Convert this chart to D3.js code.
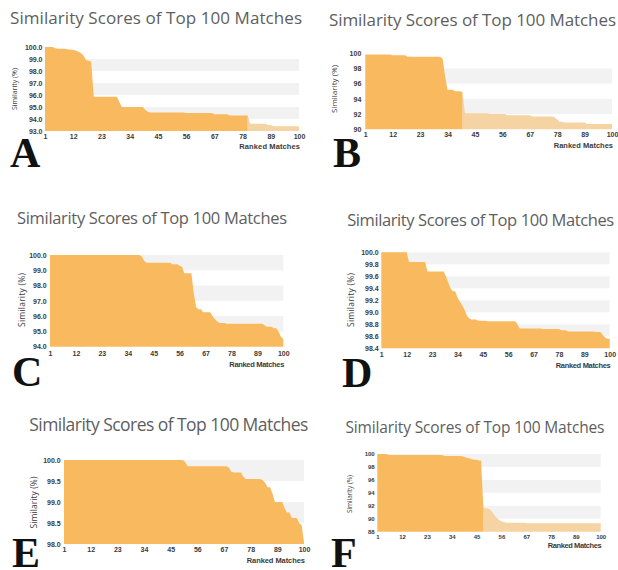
<!DOCTYPE html>
<html><head><meta charset="utf-8">
<script src="https://cdn.jsdelivr.net/npm/d3@7"></script>
<style>body{margin:0;background:#fff;} svg{display:block;}</style>
</head><body><svg id="c" width="618" height="570"></svg>
<script>
// ---------- data ----------
const xTickLabels = [1, 12, 23, 34, 45, 56, 67, 78, 89, 100];
const chartTitle = "Similarity Scores of Top 100 Matches";
const yAxisTitle = "Similarity (%)";
const xAxisTitle = "Ranked Matches";
const panelLetters = ["A", "B", "C", "D", "E", "F"];

const yTicksA = [93, 94, 95, 96, 97, 98, 99, 100];
const yTicksB = [90, 92, 94, 96, 98, 100];
const yTicksC = [94, 95, 96, 97, 98, 99, 100];
const yTicksD = [98.4, 98.6, 98.8, 99.0, 99.2, 99.4, 99.6, 99.8, 100.0];
const yTicksE = [98.0, 98.5, 99.0, 99.5, 100.0];
const yTicksF = [88, 90, 92, 94, 96, 98, 100];

const scoresA = [
 100,100,100,100,99.9,99.85,99.85,99.85,99.85,99.8,
 99.8,99.75,99.7,99.6,99.5,99.3,98.9,98.85,98.8,95.85,
 95.85,95.85,95.85,95.85,95.85,95.85,95.85,95.85,95.85,95.4,
 95,95,95,95,95,95,95,95,95,94.8,
 94.6,94.55,94.55,94.55,94.55,94.55,94.55,94.55,94.55,94.55,
 94.55,94.55,94.55,94.55,94.55,94.5,94.5,94.5,94.5,94.5,
 94.5,94.5,94.5,94.5,94.5,94.5,94.4,94.4,94.4,94.4,
 94.4,94.4,94.3,94.3,94.3,94.3,94.3,94.3,94.3,94.3,
 93.6,93.6,93.6,93.6,93.6,93.6,93.6,93.5,93.5,93.4,
 93.4,93.4,93.4,93.4,93.4,93.4,93.4,93.4,93.4,93.4
];
const scoresB = [
 99.85,99.85,99.85,99.85,99.85,99.85,99.85,99.85,99.85,99.85,
 99.85,99.75,99.75,99.75,99.75,99.75,99.75,99.55,99.55,99.55,
 99.55,99.55,99.55,99.55,99.55,99.55,99.55,99.55,99.55,99.55,
 99.55,99.3,97.0,95.2,95.2,95.2,95.0,95.0,95.0,94.9,
 92.1,92.1,92.1,92.1,92.1,92.1,92.1,92.1,92.1,92.1,
 92.0,92.0,92.0,92.0,92.0,92.0,92.0,91.85,91.85,91.85,
 91.85,91.85,91.85,91.85,91.85,91.85,91.85,91.7,91.7,91.7,
 91.7,91.7,91.7,91.7,91.7,91.7,91.6,91.3,91.0,91.0,
 90.9,90.9,90.9,90.9,90.9,90.9,90.9,90.9,90.9,90.7,
 90.7,90.7,90.7,90.7,90.7,90.7,90.7,90.7,90.7,90.7
];
const scoresC = [
 100,100,100,100,100,100,100,100,100,100,
 100,100,100,100,100,100,100,100,100,100,
 100,100,100,100,100,100,100,100,100,100,
 100,100,100,100,100,100,100,100,100,99.9,
 99.6,99.5,99.5,99.5,99.5,99.5,99.5,99.5,99.5,99.5,
 99.5,99.5,99.4,99.4,99.4,99.3,99.25,98.8,98.8,98.8,
 98.8,97.5,96.6,96.45,96.45,96.25,96.25,96.25,96.25,96.0,
 95.8,95.65,95.55,95.55,95.55,95.5,95.5,95.5,95.5,95.5,
 95.5,95.5,95.5,95.5,95.5,95.5,95.5,95.5,95.5,95.5,
 95.5,95.4,95.3,95.3,95.3,95.2,95.2,95.0,94.65,94.5
];
const scoresD = [
 100,100,100,100,100,100,100,100,100,100,
 100,100,99.84,99.84,99.84,99.84,99.84,99.84,99.84,99.84,
 99.68,99.68,99.68,99.68,99.68,99.68,99.68,99.68,99.6,99.5,
 99.4,99.35,99.35,99.25,99.18,99.12,99.05,98.95,98.9,98.88,
 98.88,98.88,98.86,98.86,98.86,98.86,98.85,98.85,98.85,98.85,
 98.85,98.85,98.85,98.85,98.85,98.85,98.85,98.85,98.85,98.8,
 98.73,98.73,98.73,98.73,98.73,98.73,98.73,98.73,98.73,98.73,
 98.72,98.72,98.72,98.72,98.72,98.72,98.72,98.72,98.7,98.7,
 98.7,98.68,98.68,98.68,98.68,98.68,98.68,98.68,98.68,98.68,
 98.68,98.68,98.68,98.67,98.67,98.67,98.62,98.58,98.56,98.56
];
const scoresE = [
 100,100,100,100,100,100,100,100,100,100,
 100,100,100,100,100,100,100,100,100,100,
 100,100,100,100,100,100,100,100,100,100,
 100,100,100,100,100,100,100,100,100,100,
 100,100,100,100,100,100,100,100,100,100,
 99.95,99.85,99.85,99.85,99.85,99.85,99.85,99.85,99.85,99.85,
 99.85,99.85,99.85,99.85,99.85,99.85,99.85,99.85,99.82,99.72,
 99.7,99.7,99.7,99.7,99.6,99.55,99.55,99.55,99.55,99.55,
 99.55,99.55,99.52,99.45,99.35,99.35,99.2,99.0,99.0,99.0,
 99.0,98.85,98.75,98.75,98.62,98.62,98.62,98.5,98.45,98.05
];
const scoresF = [
 100,100,100,100,100,99.85,99.85,99.85,99.85,99.85,
 99.85,99.85,99.85,99.85,99.85,99.85,99.85,99.85,99.85,99.85,
 99.85,99.85,99.85,99.85,99.85,99.85,99.85,99.85,99.85,99.8,
 99.7,99.7,99.7,99.7,99.7,99.7,99.7,99.7,99.6,99.5,
 99.4,99.3,99.2,99.1,99.1,99.0,99.0,91.7,91.6,91.6,
 91.4,91.0,90.5,90.1,89.8,89.6,89.5,89.4,89.4,89.4,
 89.4,89.4,89.4,89.4,89.4,89.4,89.3,89.3,89.3,89.3,
 89.3,89.3,89.3,89.3,89.3,89.3,89.3,89.3,89.3,89.3,
 89.3,89.3,89.3,89.3,89.3,89.3,89.3,89.3,89.3,89.3,
 89.3,89.3,89.3,89.3,89.3,89.3,89.3,89.3,89.3,89.3
];
// rank at which the shaded (faded) part of the area begins; null = none
const fadeFromA = 80, fadeFromB = 40, fadeFromF = 48;

// ---------- layout ----------
const panels = [
 {letter:"A", values:scoresA, yTicks:yTicksA, yFmt:".1f", fade:fadeFromA,
  x0:45, x1:299, y0:47, y1:131, tx:156, ty:23.5, tfs:17, tw:292,
  ytx:14, yty:89, ytfs:7, ytw:42, rmy:146, rmw:60.7, lx:10, ly:167, tickFs:7, xPad:3.5, yPad:2.5},
 {letter:"B", values:scoresB, yTicks:yTicksB, yFmt:"d", fade:fadeFromB,
  x0:365.3, x1:612, y0:53.3, y1:129.3, tx:472.5, ty:26, tfs:17, tw:287,
  ytx:333, yty:89, ytfs:8, ytw:48, rmy:145.7, rmw:59.3, lx:333, ly:167, tickFs:7, xPad:3.2, yPad:4},
 {letter:"C", values:scoresC, yTicks:yTicksC, yFmt:".1f", fade:null,
  x0:50, x1:283.3, y0:255, y1:346.7, tx:152, ty:224.3, tfs:16.5, tw:270,
  ytx:21.7, yty:300, ytfs:8.5, ytw:54, rmy:364, rmw:55, lx:12, ly:386, tickFs:7, xPad:4, yPad:3.3},
 {letter:"D", values:scoresD, yTicks:yTicksD, yFmt:".1f", fade:null,
  x0:381.3, x1:609.7, y0:252.3, y1:348.3, tx:480.7, ty:225.7, tfs:16.5, tw:267,
  ytx:350.7, yty:300, ytfs:8.5, ytw:54, rmy:365, rmw:55, lx:342, ly:387, tickFs:7, xPad:4.2, yPad:2.6},
 {letter:"E", values:scoresE, yTicks:yTicksE, yFmt:".1f", fade:null,
  x0:64, x1:304, y0:460, y1:544, tx:168.8, ty:431, tfs:17.5, tw:279,
  ytx:33.3, yty:502.5, ytfs:8.5, ytw:52, rmy:560.7, rmw:58.3, lx:12, ly:567, tickFs:7, xPad:3.4, yPad:3.3},
 {letter:"F", values:scoresF, yTicks:yTicksF, yFmt:"d", fade:fadeFromF,
  x0:377.3, x1:600.7, y0:454, y1:531.7, tx:475, ty:433.3, tfs:15.5, tw:259,
  ytx:349.7, yty:494, ytfs:6.5, ytw:38, rmy:545.7, rmw:54, lx:331, ly:567, tickFs:6, xPad:2.9, yPad:2.6}
];

const DARK = "#f9b95f", LIGHT = "#f5d3a2", BAND = "#f2f2f2";
const svg = d3.select("#c");

panels.forEach(p => {
  const g = svg.append("g");
  const yMin = p.yTicks[0], yMax = p.yTicks[p.yTicks.length - 1];
  const x = d3.scaleLinear().domain([1, 100]).range([p.x0, p.x1]);
  const y = d3.scaleLinear().domain([yMin, yMax]).range([p.y1, p.y0]);

  // alternating bands (bottom band white)
  const bands = d3.pairs(p.yTicks).filter((d, i) => i % 2 === 1);
  g.selectAll("rect.band").data(bands).join("rect")
    .attr("x", p.x0).attr("width", p.x1 - p.x0)
    .attr("y", d => y(d[1])).attr("height", d => y(d[0]) - y(d[1]))
    .attr("fill", BAND);

  const pts = p.values.map((v, i) => ({r: i + 1, v}));
  const area = d3.area().x(d => x(d.r)).y0(y(yMin)).y1(d => y(d.v));
  if (p.fade) {
    g.append("path").attr("d", area(pts.slice(p.fade - 1))).attr("fill", LIGHT);
    g.append("path").attr("d", area(pts.slice(0, p.fade))).attr("fill", DARK);
  } else {
    g.append("path").attr("d", area(pts)).attr("fill", DARK);
  }

  // x axis
  const xa = g.append("g").attr("transform", `translate(0,${p.y1})`)
    .call(d3.axisBottom(x).tickValues(xTickLabels).tickSize(0).tickPadding(p.xPad));
  xa.select(".domain").remove();
  xa.selectAll("text").attr("font-family", "Liberation Sans, Arial, sans-serif")
    .attr("font-size", p.tickFs).attr("font-weight", "bold").attr("fill", "#3a3a3a");

  // y axis
  const ya = g.append("g").attr("transform", `translate(${p.x0},0)`)
    .call(d3.axisLeft(y).tickValues(p.yTicks).tickFormat(d3.format(p.yFmt)).tickSize(0).tickPadding(p.yPad));
  ya.select(".domain").remove();
  ya.selectAll("text").attr("font-family", "Liberation Sans, Arial, sans-serif")
    .attr("font-size", p.tickFs).attr("font-weight", "bold").attr("fill", "#3a3a3a");

  // titles
  g.append("text").text(chartTitle)
    .attr("x", p.tx).attr("y", p.ty).attr("text-anchor", "middle")
    .attr("font-family", "Open Sans, sans-serif").attr("font-size", p.tfs)
    .attr("textLength", p.tw).attr("fill", "#5e5e5e");

  g.append("text").text(yAxisTitle)
    .attr("transform", `translate(${p.ytx},${p.yty}) rotate(-90)`)
    .attr("text-anchor", "middle").attr("dominant-baseline", "central")
    .attr("font-family", "Open Sans, sans-serif").attr("font-size", p.ytfs)
    .attr("textLength", p.ytw).attr("fill", "#3a3a3a");

  g.append("text").text(xAxisTitle)
    .attr("x", p.x1 + 1).attr("y", p.rmy).attr("dy", "0.35em")
    .attr("text-anchor", "end")
    .attr("font-family", "Liberation Sans, Arial, sans-serif").attr("font-weight", "bold")
    .attr("font-size", 7.5).attr("textLength", p.rmw).attr("fill", "#3a3a3a");

  g.append("text").text(p.letter)
    .attr("x", p.lx).attr("y", p.ly)
    .attr("font-family", "Liberation Serif, Times New Roman, serif").attr("font-weight", "bold")
    .attr("font-size", 42).attr("fill", "#111");
});
</script>
</body></html>
